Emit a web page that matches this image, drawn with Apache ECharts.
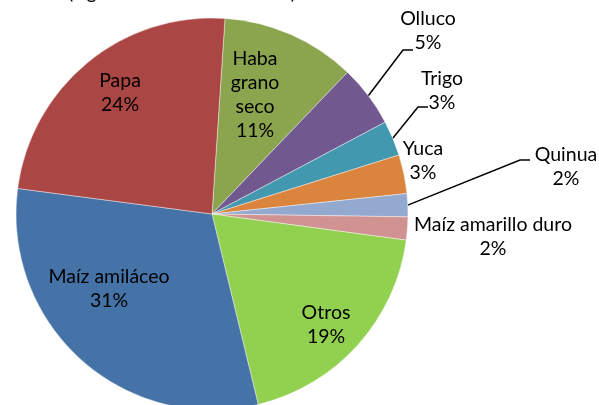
<!DOCTYPE html>
<html>
<head>
<meta charset="utf-8">
<script src="https://cdn.jsdelivr.net/npm/echarts@6/dist/echarts.min.js"></script>
<style>
html, body { margin: 0; padding: 0; background: #fff; }
#chart { width: 599px; height: 405px; }
</style>
</head>
<body>
<div id="chart"></div>
<script>
// datos (participación en %)
var TITLE = '(Agosto 2013 - Julio 2014)';
var CROPS = ['Haba grano seco', 'Olluco', 'Trigo', 'Yuca', 'Quinua', 'Maíz amarillo duro', 'Otros', 'Maíz amiláceo', 'Papa'];
var SHARES = [11.1, 5.1, 2.9, 3.2, 1.9, 1.9, 19.1, 30.9, 24.0];

// estilos
var COLORS = ['#8aa54e', '#71588f', '#4198af', '#db843d', '#93a9cf', '#d19392', '#92d050', '#4572a7', '#aa4643'];
var FONT = 'Lato';
var CENTER = [212, 214];
var RADIUS = 196;
var START = 86.2;
var INSIDE = { 'Haba grano seco': 1, 'Otros': 1, 'Maíz amiláceo': 1, 'Papa': 1 };
// centro de cada etiqueta (px)
var LABEL_AT = {
    'Papa': [120, 93],
    'Haba grano seco': [255, 95],
    'Olluco': [428, 31],
    'Trigo': [442, 91],
    'Yuca': [423, 161],
    'Quinua': [566, 167],
    'Maíz amarillo duro': [493, 237],
    'Otros': [326, 325],
    'Maíz amiláceo': [109, 289]
};
// final de la línea guía (solo las que la llevan)
var LINE_END = {
    'Olluco': [413, 50],
    'Trigo': [428, 107],
    'Quinua': [530, 160]
};

var chart = echarts.init(document.getElementById('chart'));

var total = 0;
for (var i = 0; i < SHARES.length; i++) total += SHARES[i];

// ángulo medio de cada porción (grados, horario desde las 12)
var midAngle = [];
var acc = 90 - START;
for (var i = 0; i < SHARES.length; i++) {
    var span = SHARES[i] / total * 360;
    midAngle.push(acc + span / 2);
    acc += span;
}

var data = [];
for (var i = 0; i < CROPS.length; i++) {
    var name = CROPS[i];
    var item = {
        name: name,
        value: SHARES[i],
        itemStyle: { color: COLORS[i] },
        label: { position: INSIDE[name] ? 'inside' : 'outside' },
        labelLine: { show: !!LINE_END[name] }
    };
    if (name === 'Haba grano seco')
        item.label.formatter = 'Haba\ngrano\nseco\n{d}%';
    data.push(item);
}

chart.setOption({
    animation: false,
    title: {
        text: TITLE,
        left: 68,
        top: -18,
        padding: 0,
        textStyle: { fontFamily: FONT, fontSize: 19.5, fontWeight: 'normal', color: '#000', lineHeight: 22 }
    },
    series: [{
        type: 'pie',
        center: CENTER,
        radius: RADIUS,
        startAngle: START,
        clockwise: true,
        percentPrecision: 0,
        avoidLabelOverlap: false,
        itemStyle: { borderColor: 'rgba(255,255,255,0.7)', borderWidth: 0.6 },
        label: {
            show: true,
            formatter: '{b}\n{d}%',
            fontFamily: FONT,
            fontSize: 19.5,
            lineHeight: 24,
            color: '#000',
            align: 'center'
        },
        labelLine: {
            show: true,
            lineStyle: { color: '#000', width: 1.5 }
        },
        labelLayout: function (params) {
            var name = CROPS[params.dataIndex];
            var p = LABEL_AT[name];
            var out = { x: p[0], y: p[1], align: 'center', verticalAlign: 'middle' };
            var end = LINE_END[name];
            if (end) {
                var a = midAngle[params.dataIndex] * Math.PI / 180;
                var edge = [CENTER[0] + RADIUS * Math.sin(a), CENTER[1] - RADIUS * Math.cos(a)];
                out.labelLinePoints = [edge, [end[0] - 10, end[1]], end];
            }
            return out;
        },
        data: data
    }]
});
</script>
</body>
</html>
